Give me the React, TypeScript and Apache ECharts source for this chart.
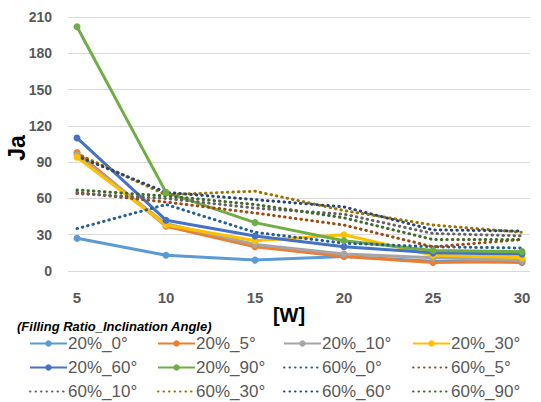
import React, { useEffect, useRef } from "react";
import * as echarts from "echarts";

const xValues = [5, 10, 15, 20, 25, 30];
const xTicks = [5, 10, 15, 20, 25, 30];

const s20_0 = [27, 13, 9, 12, 8, 7];
const s20_5 = [98, 37, 20, 12, 7, 8];
const s20_10 = [96, 39, 22, 14, 11, 9];
const s20_30 = [94, 38, 25, 30, 13, 11];
const s20_60 = [110, 42, 29, 20, 15, 14];
const s20_90 = [202, 65, 40, 25, 17, 16];
const s60_0 = [35, 55, 32, 23, 20, 19];
const s60_5 = [65, 57, 48, 38, 20, 26];
const s60_10 = [64, 60, 52, 47, 31, 29];
const s60_30 = [97, 63, 66, 50, 38, 32];
const s60_60 = [95, 65, 59, 53, 34, 33];
const s60_90 = [67, 62, 55, 44, 26, 26];

const seriesDefs = [
  { name: "20%_0°", data: s20_0, color: "#5B9BD5", dotted: false },
  { name: "20%_5°", data: s20_5, color: "#ED7D31", dotted: false },
  { name: "20%_10°", data: s20_10, color: "#A5A5A5", dotted: false },
  { name: "20%_30°", data: s20_30, color: "#FFC000", dotted: false },
  { name: "20%_60°", data: s20_60, color: "#4472C4", dotted: false },
  { name: "20%_90°", data: s20_90, color: "#70AD47", dotted: false },
  { name: "60%_0°", data: s60_0, color: "#255E91", dotted: true },
  { name: "60%_5°", data: s60_5, color: "#9E480E", dotted: true },
  { name: "60%_10°", data: s60_10, color: "#636363", dotted: true },
  { name: "60%_30°", data: s60_30, color: "#997300", dotted: true },
  { name: "60%_60°", data: s60_60, color: "#264478", dotted: true },
  { name: "60%_90°", data: s60_90, color: "#43682B", dotted: true },
];

const legendColumns = [
  ["20%_0°", "20%_60°", "60%_10°"],
  ["20%_5°", "20%_90°", "60%_30°"],
  ["20%_10°", "60%_0°", "60%_60°"],
  ["20%_30°", "60%_5°", "60%_90°"],
];
const legendLefts = [29, 157, 283, 412];

export default function App() {
  const ref = useRef<HTMLDivElement>(null);
  useEffect(() => {
    if (!ref.current) return;
    const chart = echarts.init(ref.current, undefined, { renderer: "svg" });
    const font = "Liberation Sans";
    const isDotted = (n: string) => seriesDefs.find((s) => s.name === n)!.dotted;
    chart.setOption({
      animation: false,
      backgroundColor: "#fff",
      textStyle: { fontFamily: font },
      grid: { left: 68, right: 11, top: 17, bottom: 131 },
      xAxis: {
        type: "value",
        min: 4.494,
        max: 30.45,
        axisLine: { show: false },
        axisTick: { show: false },
        splitLine: { show: false },
        axisLabel: {
          customValues: xTicks,
          margin: 19,
          fontSize: 15,
          fontWeight: "bold",
          color: "#595959",
          fontFamily: font,
        },
      },
      yAxis: {
        type: "value",
        min: 0,
        max: 210,
        interval: 30,
        axisLine: { show: false },
        axisTick: { show: false },
        splitLine: { lineStyle: { color: "#D9D9D9", width: 1 } },
        axisLabel: {
          margin: 16,
          fontSize: 14,
          fontWeight: "bold",
          color: "#595959",
          fontFamily: font,
        },
      },
      legend: legendColumns.map((col, i) => ({
        data: col.map((n) =>
          isDotted(n)
            ? {
                name: n,
                itemStyle: { color: "rgba(0,0,0,0)", borderWidth: 0 },
                textStyle: { color: "#595959" },
              }
            : { name: n }
        ),
        orient: "vertical",
        left: legendLefts[i],
        top: 335,
        padding: 0,
        itemWidth: 37,
        itemHeight: 8,
        itemGap: 7,
        selectedMode: false,
        textStyle: {
          fontSize: 17,
          color: "#595959",
          fontFamily: font,
          padding: [0, 0, 0, -4],
        },
      })),
      graphic: [
        {
          type: "text",
          x: 17,
          y: 148,
          rotation: Math.PI / 2,
          style: {
            text: "Ja",
            font: "bold 23px " + font,
            fill: "#000",
            align: "center",
            verticalAlign: "middle",
          },
        },
        {
          type: "text",
          x: 289,
          y: 315,
          style: {
            text: "[W]",
            font: "bold 20px " + font,
            fill: "#000",
            align: "center",
            verticalAlign: "middle",
          },
        },
        {
          type: "text",
          x: 17,
          y: 326,
          style: {
            text: "(Filling Ratio_Inclination Angle)",
            font: "italic bold 13px " + font,
            fill: "#000",
            align: "left",
            verticalAlign: "middle",
          },
        },
      ],
      series: seriesDefs.map((s) => ({
        name: s.name,
        type: "line",
        data: s.data.map((v, i) => [xValues[i], v]),
        color: s.color,
        symbol: s.dotted ? "none" : "circle",
        symbolSize: 7,
        lineStyle: s.dotted
          ? { width: 3, type: [0.5, 5], cap: "round", color: s.color }
          : { width: 3, color: s.color },
        itemStyle: { color: s.color },
      })),
    });
    return () => chart.dispose();
  }, []);
  return (
    <div
      ref={ref}
      style={{ position: "fixed", left: 0, top: 0, width: 541, height: 402 }}
    />
  );
}
